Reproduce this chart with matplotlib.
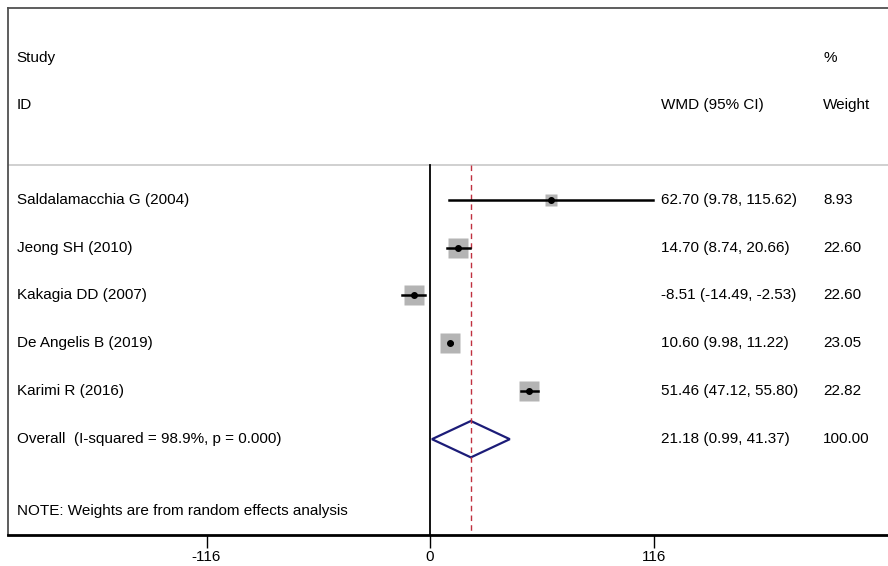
import matplotlib.pyplot as plt
from matplotlib.patches import Polygon

studies = ['Saldalamacchia G (2004)', 'Jeong SH (2010)', 'Kakagia DD (2007)',
           'De Angelis B (2019)', 'Karimi R (2016)']
wmd = [62.70, 14.70, -8.51, 10.60, 51.46]
lo = [9.78, 8.74, -14.49, 9.98, 47.12]
hi = [115.62, 20.66, -2.53, 11.22, 55.80]
weight = [8.93, 22.60, 22.60, 23.05, 22.82]
overall = (21.18, 0.99, 41.37)
overall_label = 'Overall  (I-squared = 98.9%, p = 0.000)'
ticks = [-116, 0, 116]

plt.rcParams['font.family'] = ['Liberation Sans', 'DejaVu Sans']
fs = 11

fig = plt.figure(figsize=(8.88, 5.66), dpi=100)
ax = fig.add_axes([8/888, 31/566, 900/888, 527/566])
ax.set_xlim(-219, 248)
ax.set_ylim(7, -4)

tx, wx, px = -214.5, 120, 204

# header
ax.text(tx, -2.96, 'Study', fontsize=fs, va='center')
ax.text(tx, -1.98, 'ID', fontsize=fs, va='center')
ax.text(wx, -1.98, 'WMD (95% CI)', fontsize=fs, va='center')
ax.text(px, -2.96, '%', fontsize=fs, va='center')
ax.text(px, -1.98, 'Weight', fontsize=fs, va='center')
ax.axhline(-0.73, color='#c8c8c8', lw=1.2)

ax.plot([0, 0], [-0.73, 7], color='black', lw=1.3)
ax.plot([overall[0]] * 2, [-0.73, 7], color='#c0303f', lw=1, ls=(0, (4, 3)))

for i, name in enumerate(studies):
    ax.text(tx, i, name, fontsize=fs, va='center')
    ax.text(wx, i, '%.2f (%.2f, %.2f)' % (wmd[i], lo[i], hi[i]), fontsize=fs, va='center')
    ax.text(px, i, '%.2f' % weight[i], fontsize=fs, va='center')
    ax.plot(wmd[i], i, 's', ms=weight[i] ** 0.5 * 2.9, color='#b4b4b4', mec='none')
    ax.plot([lo[i], hi[i]], [i, i], color='black', lw=1.8)
    ax.plot(wmd[i], i, 'o', ms=4, color='black')

ax.add_patch(Polygon([[overall[1], 5], [overall[0], 4.62], [overall[2], 5], [overall[0], 5.38]],
                     closed=True, fill=False, ec='#1c1c78', lw=1.6))
ax.text(tx, 5, overall_label, fontsize=fs, va='center')
ax.text(wx, 5, '%.2f (%.2f, %.2f)' % overall, fontsize=fs, va='center')
ax.text(px, 5, '100.00', fontsize=fs, va='center')
ax.text(tx, 6.5, 'NOTE: Weights are from random effects analysis', fontsize=fs, va='center')

for s in ['left', 'top']:
    ax.spines[s].set_color('#505050')
    ax.spines[s].set_linewidth(1.3)
ax.spines['right'].set_visible(False)
ax.spines['bottom'].set_linewidth(2)
ax.set_yticks([])
ax.set_xticks(ticks)
ax.set_xticklabels([str(t) for t in ticks], fontsize=fs)
ax.tick_params(axis='x', length=9, width=1, pad=1.5)

fig.savefig('out.png', dpi=100)
